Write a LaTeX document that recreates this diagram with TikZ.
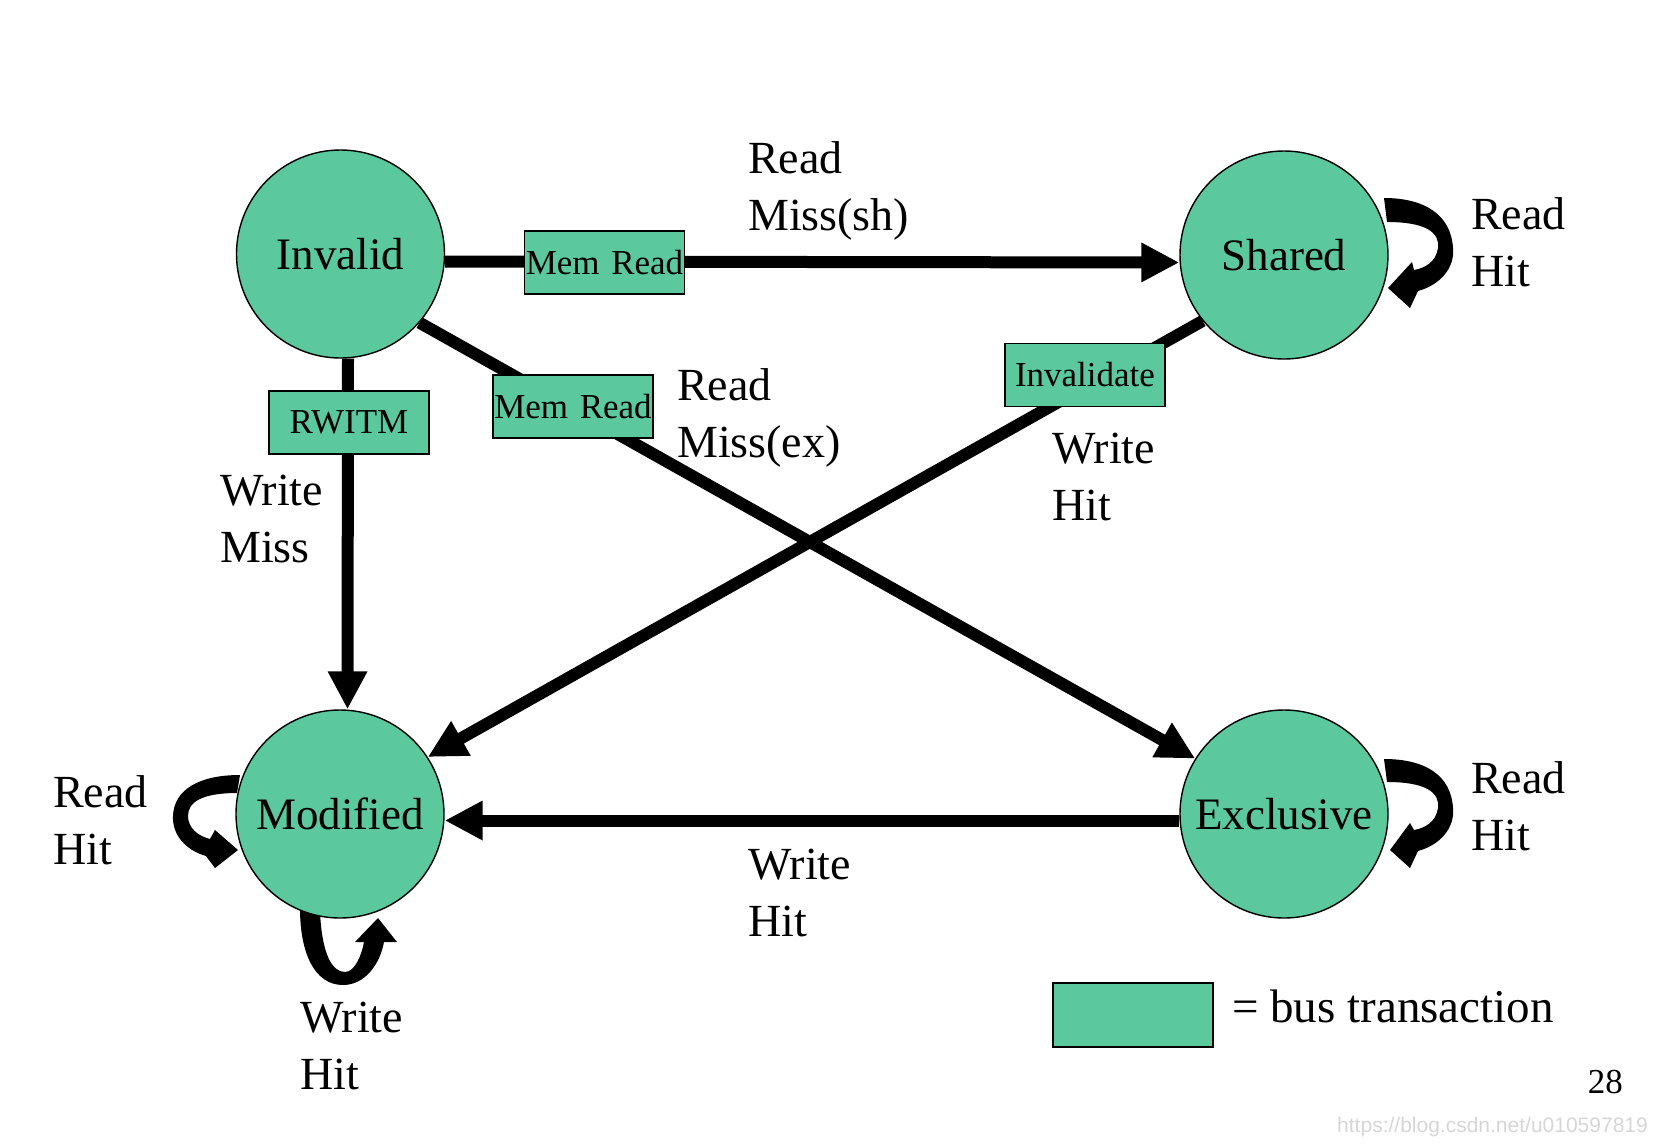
\documentclass[tikz,border=0pt]{standalone}
\usepackage{fontspec}
\setmainfont{Liberation Serif}
\newfontfamily\wmfont{Liberation Sans}
\usetikzlibrary{arrows.meta}
\definecolor{stategreen}{RGB}{91,200,158}
\definecolor{wmgray}{RGB}{214,214,214}
\pgfdeclarelayer{background}
\pgfsetlayers{background,main}
\begin{document}
\begin{tikzpicture}[x=1pt,y=-1pt,
  state/.style={circle, draw, line width=1.4pt, fill=stategreen, minimum size=208pt, inner sep=0pt, font=\fontsize{45}{54}\selectfont},
  bustx/.style={rectangle, draw, line width=1.5pt, fill=stategreen, minimum width=160pt, minimum height=63pt, inner sep=0pt, font=\fontsize{35}{40}\selectfont},
  lbl/.style={font=\fontsize{46}{57}\selectfont, align=left, inner sep=0pt, anchor=base west},
  conn/.style={line width=12pt, -{Triangle[length=38pt,width=37pt]}},
  loopshape/.style={fill=black}
]
\useasboundingbox (0,0) rectangle (1658,1144);

% states
\node[state] (inv) at (340.5,254) {Invalid};
\node[state] (sh)  at (1284,255) {Shared};
\node[state] (mod) at (340,814) {Modified};
\node[state] (ex)  at (1284,814) {Exclusive};

% connectors
\draw[conn] ([yshift=-7.5pt]inv.east) -- ([yshift=-7.5pt]sh.west);
\draw[conn] (inv.-41) -- (ex.148);
\draw[conn] (sh.219) -- (mod.33);
\draw[conn] ([xshift=7.5pt]inv.south) -- ([xshift=7.5pt]mod.north);
\draw[conn] ([yshift=-6.5pt]ex.west) -- ([yshift=-6.5pt]mod.east);

% self loops (behind the circles)
\begin{pgfonlayer}{background}
\begin{scope}[shift={(sh.center)}]
  \fill[loopshape] (103,-33) .. controls (141,-33) and (156,-23) .. (154,-7)
    .. controls (152,7) and (141,13) .. (130,15) -- (128,7) -- (104,33) -- (126,53) -- (134,36)
    .. controls (156,30) and (171,13) .. (169,-7) .. controls (167,-40) and (141,-57) .. (100,-57) -- cycle;
\end{scope}
\begin{scope}[shift={(ex.center)}]
  \fill[loopshape] (103,-32) .. controls (141,-32) and (156,-22) .. (154,-6)
    .. controls (152,8) and (141,14) .. (130,16) -- (126,9) -- (106,36) -- (126,54) -- (134,37)
    .. controls (156,31) and (171,14) .. (169,-6) .. controls (167,-39) and (141,-55) .. (100,-55) -- cycle;
\end{scope}
\begin{scope}[shift={(mod.center)}, xscale=-1]
  \fill[loopshape] (103,-21) .. controls (138,-21) and (152,-12) .. (152,2)
    .. controls (152,14) and (142,22) .. (130,25) -- (125,16) -- (102,36) -- (125,54) -- (134,42)
    .. controls (155,36) and (168,20) .. (167,2) .. controls (166,-25) and (140,-39) .. (100,-39) -- cycle;
\end{scope}
\begin{scope}[shift={(mod.center)}]
  \fill[loopshape] (-20,98) .. controls (-18,140) and (-8,158) .. (5,158)
    .. controls (15,158) and (22,140) .. (24,128) -- (15,128) -- (38,104) -- (57,128) -- (44,128)
    .. controls (40,150) and (25,171) .. (3,171) .. controls (-25,171) and (-40,140) .. (-40,94) -- cycle;
\end{scope}
\end{pgfonlayer}

% bus transaction boxes
\node[bustx] (mr1) at (604.5,262.5) {Mem\,\,Read};
\node[bustx] (mr2) at (573,406.5) {Mem\,\,Read};
\node[bustx] (rw)  at (349,422.5) {RWITM};
\node[bustx] (iv)  at (1085,375) {Invalidate};

% labels (anchor = baseline of the last line)
\node[lbl] (t1) at (748,230) {Read\\Miss(sh)};
\node[lbl] (t2) at (1471,286) {Read\\Hit};
\node[lbl] (t3) at (677,457) {Read\\Miss(ex)};
\node[lbl] (t4) at (1052,520) {Write\\Hit};
\node[lbl] (t5) at (220,562) {Write\\Miss};
\node[lbl] (t6) at (53,864) {Read\\Hit};
\node[lbl] (t7) at (1471,850) {Read\\Hit};
\node[lbl] (t8) at (748,936) {Write\\Hit};
\node[lbl] (t9) at (300,1089) {Write\\Hit};

% legend
\node[bustx, minimum height=64pt] (leg) at (1133,1015) {};
\node[lbl, font=\fontsize{47}{57}\selectfont] (legt) at (1232,1022) {= bus transaction};

% page number and watermark
\node[inner sep=0pt, anchor=base east, font=\fontsize{35}{40}\selectfont] (pg) at (1623,1093) {28};
\node[inner sep=0pt, anchor=base east, font=\wmfont\fontsize{21}{24}\selectfont, text=wmgray] (wm) at (1648,1132) {https://blog.csdn.net/u010597819};
\end{tikzpicture}
\end{document}
